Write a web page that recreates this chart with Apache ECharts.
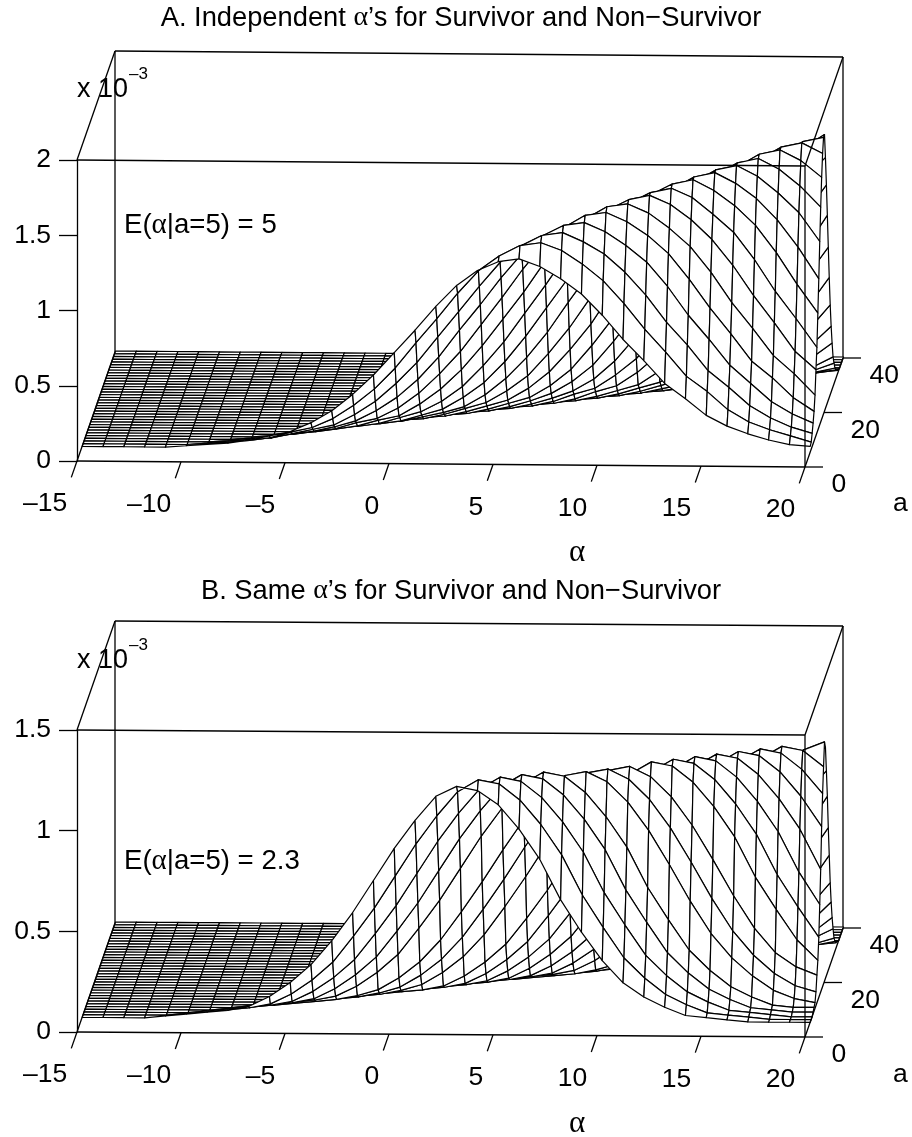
<!DOCTYPE html>
<html><head><meta charset="utf-8">
<style>html,body{margin:0;padding:0;background:#fff}#c{width:912px;height:1137px}</style>
<script src="https://cdn.jsdelivr.net/npm/echarts@6/dist/echarts.min.js"></script>
</head><body><div id="c"></div>
<script>
// Grid of the surface
const alphaGrid = [-15,-14,-13,-12,-11,-10,-9,-8,-7,-6,-5,-4,-3,-2,-1,0,1,2,3,4,5,6,7,8,9,10,11,12,13,14,15,16,17,18,19,20];
const aGrid = [5,6,7,8,9,10,11,12,13,14,15,16,17,18,19,20,21,22,23,24,25,26,27,28,29,30,31,32,33,34,35,36,37,38,39,40];
const alphaTicks = [-15,-10,-5,0,5,10,15,20];
const alphaTickLabels = ['–15','–10','–5','0','5','10','15','20'];
const aTicks = [0,20,40];

// Density, unit 1e-5. One row per a (5..40); each row ends at alpha=20,
// missing values on its left are 0.
const densityA = [
[1,2,3,5,8,11,17,25,36,49,64,79,95,109,119,125,127,122,114,104,90,74,60,45,35,24,17,12,8,5,4],
[1,2,3,5,9,12,18,27,38,52,69,85,102,117,127,134,136,131,122,111,96,79,64,48,38,26,18,13,9,5],
[1,2,3,6,9,12,19,28,40,54,71,88,105,121,132,139,141,135,127,115,100,82,67,50,39,27,19,13,9],
[1,2,4,6,9,13,20,29,41,56,74,91,109,125,137,144,146,140,131,120,104,85,69,52,40,28,20,14],
[1,2,4,6,10,13,20,30,43,58,76,94,113,130,141,149,151,145,136,124,107,88,71,53,42,29,20],
[1,2,4,6,10,13,21,31,44,60,78,96,116,133,145,153,155,149,139,127,110,90,73,55,43,29],
[1,3,4,6,10,14,21,31,45,61,80,99,119,136,149,156,159,153,143,130,113,93,75,56,44],
[1,3,4,6,10,14,22,32,46,63,82,101,121,139,152,159,162,156,145,133,115,94,76,57],
[1,3,4,7,10,14,22,33,47,64,84,103,124,142,156,163,166,159,149,136,118,97,78],
[1,3,4,7,11,15,23,33,48,65,85,105,126,145,158,166,169,162,152,138,120,99],
[1,3,4,7,11,15,23,34,49,66,87,107,129,148,161,169,172,165,154,141,122],
[1,3,4,7,11,15,23,34,50,68,88,109,131,150,164,172,175,168,157,143],
[1,3,4,7,11,16,24,35,51,69,90,111,134,154,168,176,179,172,161],
[1,3,4,7,11,16,24,36,52,70,92,113,136,156,171,179,182,175],
[1,3,4,7,12,16,25,36,52,71,93,114,138,158,172,181,184],
[1,3,4,7,12,16,25,37,53,72,94,116,140,160,175,184],
[1,3,4,7,11,15,24,35,50,69,90,111,133,153,167],
[1,3,4,7,11,15,23,34,48,66,86,106,128,147],
[1,3,4,7,11,15,22,33,47,64,84,104,125],
[1,3,4,7,10,14,22,32,46,63,83,102],
[1,3,4,6,10,14,21,31,45,61,80],
[1,2,4,6,10,13,21,31,44,60],
[1,2,4,6,10,13,21,31,44],
[1,3,4,6,10,14,21,31],
[1,2,4,6,9,13,20],
[1,2,4,6,9,14],
[1,2,4,6,9],
[1,2,4,6],
[1,2,4],
[1,2],
[1],
[],[],[],[],[]
];
const densityB = [
[1,2,3,4,6,11,18,27,39,53,69,85,99,111,116,114,107,95,80,60,44,30,19,12,7,3,2,1,0,0,0,0],
[1,2,3,4,6,11,18,27,40,54,70,86,100,112,118,116,108,96,81,61,45,30,20,12,7,3,2,1,0,0,0],
[1,2,3,4,6,11,18,27,40,54,70,86,100,112,118,116,108,96,81,61,45,30,20,12,7,3,2,1,0,0],
[1,2,3,4,6,11,18,27,40,54,70,86,100,112,118,116,108,96,81,61,45,30,20,12,7,3,2,1,1],
[1,2,3,4,6,11,18,27,40,54,70,86,100,112,118,116,108,96,81,61,45,30,20,12,7,3,2,2],
[1,2,3,5,8,14,22,33,47,62,78,93,106,115,117,112,102,88,71,53,37,25,16,9,5,3],
[1,2,3,5,8,14,22,33,47,62,78,93,106,115,117,112,102,88,71,53,37,25,16,10,7],
[1,2,3,5,8,14,22,33,47,62,78,93,106,115,117,112,102,88,71,53,37,25,18,14],
[1,2,3,4,6,11,18,27,40,54,70,86,100,112,118,116,108,96,81,61,45,30,20],
[1,2,3,4,6,11,18,27,40,54,70,86,100,112,118,116,108,96,81,61,45,30],
[1,2,3,4,6,11,18,27,40,54,70,86,100,112,118,116,108,96,81,61,45],
[1,2,3,4,6,11,18,27,40,54,70,86,100,112,118,116,108,96,81,61],
[1,2,3,4,6,11,18,27,40,54,70,86,100,112,118,116,108,96,81],
[1,2,3,4,6,11,18,27,40,54,70,86,100,112,118,116,108,96],
[1,2,3,4,6,11,18,27,40,54,70,86,100,112,118,116,108],
[1,2,3,5,8,14,22,33,47,62,78,93,106,115,119],
[1,2,3,5,8,14,22,33,47,62,78,93,106,115],
[1,2,3,5,8,13,21,32,45,60,75,90,102],
[1,2,3,5,7,12,20,29,42,56,72,88],
[1,2,3,5,7,13,20,30,43,56,71],
[1,2,3,4,7,12,19,29,41,56],
[1,2,3,4,7,12,19,29,41],
[1,2,3,4,7,12,20,30],
[1,2,3,4,7,13,21],
[1,2,3,5,9,14],
[1,2,3,5,8],
[1,2,3,5],
[1,2,3],
[1,2],
[1],
[],[],[],[],[],[]
];

const FONT = '"Liberation Sans", Arial, sans-serif';
const SERIF = '"Liberation Serif", serif';
const TICK_FONT = '26.5px ' + FONT;
const NOTE_FONT = '27.6px ' + FONT;
const DEPTH_X = 0.95, DEPTH_Y = 2.725;   // px per unit of a (oblique axis)
const SURFACE_DX = 0.5, SURFACE_DY = -1;

const chart = echarts.init(document.getElementById('c'), null, {width:912, height:1137, renderer:'canvas'});

function cell(rows, i, j){
  const r = rows[j], k = r.length - (alphaGrid.length - i);
  return k >= 0 ? r[k] / 100 : 0;
}
function projector(api, tilt){
  return (alpha, a, z, dx, dy) => {
    const p = api.coord([alpha, z]);
    return [p[0] + DEPTH_X * a + (dx||0), p[1] - DEPTH_Y * a + tilt * (alpha + 15) + (dy||0)];
  };
}
const seg = (p, q, w) => ({type:'line', silent:true, shape:{x1:p[0],y1:p[1],x2:q[0],y2:q[1]}, style:{stroke:'#000', lineWidth:w||1.3}});

function panelSeries(idx, rows, zMax, tilt){
  const axes = {xAxisIndex:idx, yAxisIndex:idx, type:'custom', silent:true, animation:false, clip:false, progressive:0};
  const cells = [];
  for (let j = aGrid.length - 2; j >= 0; j--)
    for (let i = 0; i < alphaGrid.length - 1; i++) cells.push([i, j]);
  return [
    {...axes, z:1, data:[[0,0]], renderItem:(p, api) => {
      const P = projector(api, tilt);
      return {type:'group', children:[
        seg(P(-15,40,0), P(-15,40,zMax)),
        seg(P(20,40,0), P(20,40,zMax)),
        seg(P(-15,40,zMax), P(20,40,zMax)),
        seg(P(-15,40,0), P(20,40,0))
      ]};
    }},
    {...axes, z:2, data:cells, renderItem:(p, api) => {
      const P = projector(api, tilt);
      const i = api.value(0), j = api.value(1);
      const pt = (ii, jj) => P(alphaGrid[ii], aGrid[jj], cell(rows, ii, jj), SURFACE_DX, SURFACE_DY);
      return {type:'polygon', silent:true,
        shape:{points:[pt(i,j), pt(i+1,j), pt(i+1,j+1), pt(i,j+1)]},
        style:{fill:'#fff', stroke:'#000', lineWidth:1.2, lineJoin:'round'}};
    }},
    {...axes, z:3, data:[[0,0]], renderItem:(p, api) => {
      const P = projector(api, tilt);
      const kids = [
        seg(P(-15,0,zMax), P(20,0,zMax)),
        seg(P(-15,0,0), P(20,0,0)),
        seg(P(20,0,0), P(20,0,zMax)),
        seg(P(-15,0,0), P(-15,40,0)),
        seg(P(20,0,0), P(20,40,0)),
        seg(P(-15,0,zMax), P(-15,40,zMax)),
        seg(P(20,0,zMax), P(20,40,zMax))
      ];
      alphaTicks.forEach((t, k) => {
        const s = P(t,0,0), e = P(t,-6,0);
        kids.push(seg(s, e));
        kids.push({type:'text', silent:true, style:{text:alphaTickLabels[k], x:e[0]-4, y:s[1]+43, align:'right', verticalAlign:'middle', font:TICK_FONT, fill:'#000'}});
      });
      aTicks.forEach(t => {
        const s = P(20,t,0);
        kids.push(seg(s, [s[0]+18, s[1]]));
        kids.push({type:'text', silent:true, style:{text:String(t), x:s[0]+26.5, y:s[1]+18, align:'left', verticalAlign:'middle', font:TICK_FONT, fill:'#000'}});
      });
      return {type:'group', children:kids};
    }}
  ];
}

const yAxisOf = (idx, max) => ({gridIndex:idx, type:'value', min:0, max:max, interval:0.5,
  splitLine:{show:false},
  axisLine:{show:true, onZero:false, lineStyle:{color:'#000', width:1.3}},
  axisTick:{show:true, length:18, lineStyle:{color:'#000', width:1.3}},
  axisLabel:{margin:26, padding:[3,0,0,0], color:'#000', fontFamily:FONT, fontSize:26.5, formatter:v => String(v)}});
const xAxisOf = idx => ({gridIndex:idx, type:'value', min:-15, max:20, show:false});

const txt = (left, top, text, extra) => ({type:'text', left, top, silent:true,
  style:Object.assign({text, fill:'#000', font:TICK_FONT}, extra||{})});
const rich = {g:{fontFamily:SERIF, fontSize:29, fill:'#000'}};

function titleOf(text, top){
  return {text, left:461, textAlign:'center', top, padding:0, textStyle:{color:'#000', fontFamily:FONT, fontSize:27.3, fontWeight:'normal', rich:{g:{fontFamily:SERIF, fontSize:28, color:'#000'}}}};
}

chart.setOption({
  backgroundColor:'#fff',
  animation:false,
  title:[titleOf('A. Independent {g|α}’s for Survivor and Non−Survivor', 4),
         titleOf('B. Same {g|α}’s for Survivor and Non−Survivor', 577)],
  grid:[{left:77, top:160, width:728, height:301},
        {left:77, top:730, width:728, height:302}],
  xAxis:[xAxisOf(0), xAxisOf(1)],
  yAxis:[yAxisOf(0,2), yAxisOf(1,1.5)],
  series:[...panelSeries(0, densityA, 2, 6/35), ...panelSeries(1, densityB, 1.5, 5/35)],
  graphic:{elements:[
    txt(77, 76, 'x 10', {font:'27px '+FONT}), txt(129, 66, '–3', {font:'17px '+FONT}),
    txt(77, 647, 'x 10', {font:'27px '+FONT}), txt(129, 637, '–3', {font:'17px '+FONT}),
    {type:'text', left:124, top:211, silent:true, style:{text:'E({g|α}|a=5) = 5', fill:'#000', font:NOTE_FONT, rich}},
    {type:'text', left:124, top:847, silent:true, style:{text:'E({g|α}|a=5) = 2.3', fill:'#000', font:NOTE_FONT, rich}},
    {type:'text', left:569, top:537, silent:true, style:{text:'α', fill:'#000', font:'31px '+SERIF}},
    {type:'text', left:569, top:1108, silent:true, style:{text:'α', fill:'#000', font:'31px '+SERIF}},
    txt(893, 490, 'a'), txt(893, 1061, 'a')
  ]}
});
</script></body></html>
